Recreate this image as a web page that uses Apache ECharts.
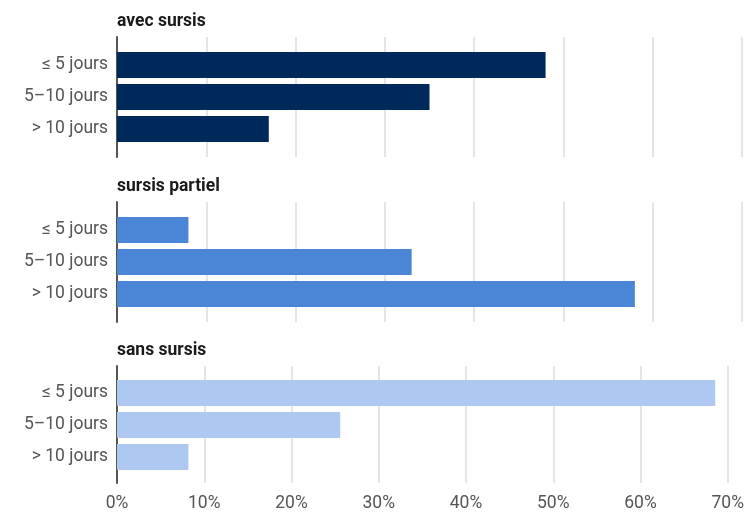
<!DOCTYPE html>
<html><head><meta charset="utf-8">
<script src="https://cdn.jsdelivr.net/npm/echarts@6/dist/echarts.min.js"></script>
<style>html,body{margin:0;padding:0;background:#fff}#c{width:747px;height:513px}</style>
</head><body><div id="c"></div>
<script>
const categories = ['≤ 5 jours', '5\u201310 jours', '> 10 jours'];
const panelTitles = ['avec sursis', 'sursis partiel', 'sans sursis'];
const avecSursis = [48, 35, 17];
const sursisPartiel = [8, 33, 58];
const sansSursis = [67, 25, 8];
const xTicks = [0, 10, 20, 30, 40, 50, 60, 70];

const seriesValues = [avecSursis, sursisPartiel, sansSursis];
const colors = ['#00295b', '#4a85d6', '#adc9f1'];
const bgTops = [37, 202, 366];
const bgHeight = 120;
const barTops = [49, 214, 377];
const barHeight = 96;
const titleTops = [13, 178, 342];
const L = 117, R = 5;
const font = 'Roboto, "Noto Sans", sans-serif';
const fs = 17.5;

const grid = [], xAxis = [], yAxis = [], series = [], title = [];
for (let p = 0; p < 3; p++) {
  grid.push({left: L, right: R, top: bgTops[p], height: bgHeight, containLabel: false});
  const gi = grid.length - 1;
  xAxis.push({
    type: 'value', gridIndex: gi, min: xTicks[0], max: xTicks[xTicks.length - 1], interval: 10,
    axisLine: {show: false}, axisTick: {show: false},
    splitLine: {show: true, lineStyle: {color: '#dcdcdc', width: 1.5}},
    axisLabel: {show: p === 2, formatter: v => v + '%', color: '#555', fontSize: fs, fontFamily: font, margin: 12}
  });
  yAxis.push({
    type: 'value', gridIndex: gi, min: 0, max: 1,
    axisLine: {show: true, lineStyle: {color: '#555', width: 2}},
    axisTick: {show: false}, axisLabel: {show: false}, splitLine: {show: false}
  });
  grid.push({left: L, right: R, top: barTops[p], height: barHeight, containLabel: false});
  const bi = grid.length - 1;
  xAxis.push({type: 'value', gridIndex: bi, min: 0, max: 70, show: false, splitLine: {show: false}});
  yAxis.push({
    type: 'category', gridIndex: bi, data: categories, inverse: true,
    axisLine: {show: false}, axisTick: {show: false}, splitLine: {show: false},
    axisLabel: {color: '#555', fontSize: fs, fontFamily: font, margin: 9}
  });
  series.push({
    type: 'bar', xAxisIndex: bi, yAxisIndex: bi, data: seriesValues[p],
    barWidth: 26, itemStyle: {color: colors[p]}, silent: true
  });
  title.push({
    text: panelTitles[p], left: L, top: titleTops[p], padding: 0,
    textStyle: {fontSize: fs, fontWeight: 'bold', color: '#1a1a1a', fontFamily: font}
  });
}

const chart = echarts.init(document.getElementById('c'), null, {renderer: 'canvas'});
chart.setOption({animation: false, title, grid, xAxis, yAxis, series});
</script>
</body></html>
